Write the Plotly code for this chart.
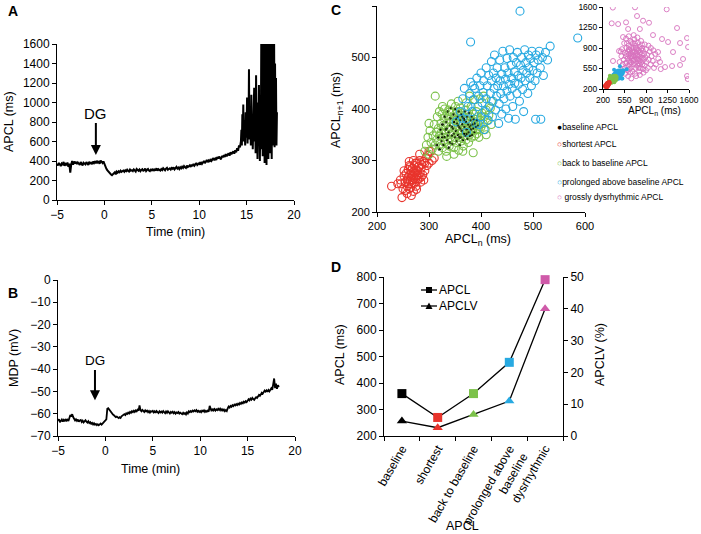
import plotly.graph_objects as go

W, H = 701, 534
FONT = "Liberation Sans, Arial, sans-serif"


def px(x):
    return x / W


def py(y):
    return 1 - y / H


# ---------------- Panel A: APCL (ms) vs time ----------------
# sampled every 0.1 min from -5.0 to 14.4 min
apcl_early = [
    372, 355, 380, 362, 348, 375, 366, 390, 352, 370,
    358, 384, 340, 372, 280, 365, 400, 362, 395, 375,
    392, 368, 385, 372, 360, 390, 378, 355, 382, 370,
    365, 388, 374, 360, 392, 376, 382, 368, 395, 380,
    398, 376, 402, 385, 392, 372, 405, 388, 380, 395,
    365, 340, 322, 305, 292, 285, 270, 262, 255, 268,
    275, 285, 262, 290, 280, 295, 285, 300, 288, 296,
    302, 290, 305, 296, 310, 298, 292, 312, 300, 306,
    296, 314, 302, 292, 318, 305, 300, 312, 296, 308,
    315, 300, 306, 322, 298, 310, 318, 302, 296, 312,
    305, 320, 298, 312, 308, 325, 300, 316, 310, 302,
    318, 308, 326, 312, 305, 322, 330, 310, 318, 325,
    312, 328, 320, 335, 315, 326, 340, 322, 332, 318,
    336, 325, 342, 330, 348, 335, 328, 352, 338, 345,
    355, 340, 362, 348, 370, 352, 365, 380, 358, 372,
    378, 362, 390, 372, 385, 400, 378, 395, 410, 388,
    405, 392, 420, 402, 415, 430, 408, 425, 412, 440,
    425, 445, 430, 418, 452, 438, 460, 442, 470, 448,
    465, 478, 455, 490, 470, 485, 500, 475, 510, 490,
    530, 505, 560, 540, 600,
]
# sampled every 0.05 min from 14.45 to 18.2 min (dysrhythmic phase)
apcl_late = [
    720, 560, 880, 650, 980, 600, 820, 700, 560, 900,
    640, 760, 1050, 580, 850, 690, 1340, 620, 900, 720,
    560, 1080, 650, 820, 520, 940, 700, 1150, 600, 880,
    480, 1280, 640, 760, 420, 1000, 560, 1180, 700, 400,
    860, 520, 1700, 600, 1100, 450, 1700, 520, 900, 380,
    1700, 640, 1250, 360, 1700, 560, 980, 420, 1700, 600,
    1500, 480, 1700, 700, 420, 1700, 560, 1200, 800, 1700,
    540, 1400, 700, 1250, 560, 900,
]
t_a = [round(-5.0 + 0.1 * i, 3) for i in range(len(apcl_early))] + \
      [round(14.45 + 0.05 * i, 3) for i in range(len(apcl_late))]
apcl_a = apcl_early + apcl_late

# ---------------- Panel B: MDP (mV) vs time ----------------
# sampled every 0.1 min from -5.0 to 18.3 min
mdp = [
    -63.2, -62.5, -63.8, -63.0, -62.6, -63.5, -62.8, -63.4, -62.4, -63.1,
    -62.7, -63.3, -61.8, -60.6, -61.2, -60.2, -61.5, -62.4, -63.0, -62.5,
    -63.2, -62.6, -63.6, -63.0, -62.8, -63.7, -63.1, -63.9, -63.3, -62.9,
    -63.6, -64.0, -63.4, -64.2, -63.8, -64.5, -64.1, -64.8, -64.3, -64.9,
    -64.6, -65.1, -64.7, -65.2, -64.8, -64.4, -64.9, -64.3, -63.9, -63.5,
    -63.0, -62.5, -57.8, -57.5, -58.2, -58.8, -59.4, -59.8, -60.4, -60.7,
    -61.0, -61.5, -61.3, -61.8, -62.0, -61.6, -61.9, -61.2, -60.9, -60.5,
    -60.2, -60.6, -59.8, -60.1, -59.5, -59.9, -59.2, -59.6, -58.9, -59.3,
    -58.7, -59.2, -58.5, -58.9, -58.2, -58.6, -56.3, -58.4, -58.9, -58.3,
    -58.8, -59.2, -58.5, -59.0, -58.6, -59.3, -58.8, -59.5, -58.9, -59.1,
    -58.7, -59.4, -58.9, -59.6, -58.8, -59.2, -59.7, -58.9, -59.4, -59.0,
    -59.5, -58.8, -59.3, -59.8, -59.0, -59.6, -58.9, -59.4, -59.9, -59.2,
    -59.6, -59.1, -59.8, -59.3, -60.0, -59.4, -59.7, -59.2, -59.9, -59.5,
    -59.8, -60.2, -59.6, -60.1, -59.7, -60.3, -59.4, -59.9, -58.9, -59.3,
    -58.8, -59.2, -58.6, -59.0, -58.5, -58.9, -58.4, -59.1, -58.7, -59.2,
    -58.8, -59.3, -58.6, -59.0, -58.5, -59.2, -58.7, -59.1, -58.6, -59.0,
    -56.5, -58.3, -58.9, -57.8, -58.5, -57.9, -58.6, -58.0, -58.4, -57.8,
    -58.3, -57.7, -58.5, -58.0, -58.6, -58.1, -58.9, -58.4, -58.8, -57.6,
    -56.8, -57.2, -56.5, -56.9, -56.2, -56.6, -55.9, -56.3, -55.7, -56.1,
    -55.5, -55.9, -55.2, -55.6, -54.9, -55.3, -54.6, -55.0, -54.4, -54.8,
    -54.2, -53.5, -54.0, -53.2, -53.7, -52.9, -53.4, -53.8, -53.1, -52.6,
    -52.9, -52.2, -51.6, -52.0, -51.3, -50.6, -51.0, -50.2, -49.6, -50.1,
    -49.5, -50.2, -49.4, -50.0, -49.0, -48.6, -49.3, -47.0, -44.2, -48.5,
    -46.5, -48.8, -47.2, -48.0,
]
t_b = [round(-5.0 + 0.1 * i, 3) for i in range(len(mdp))]

# ---------------- Panel C: Poincare plot (APCL_n, APCL_n+1) ----------------
red_x = [228, 240, 245, 248, 250, 252, 254, 255, 256, 258, 258, 260, 260, 261, 262, 262, 263, 264, 265, 265,
         266, 267, 268, 268, 269, 270, 270, 271, 272, 272, 273, 274, 275, 275, 276, 277, 278, 278, 279, 280,
         281, 282, 283, 284, 285, 286, 288, 290, 292, 294, 296, 298, 300, 303, 306, 310, 262, 270, 258, 276,
         282, 266, 290, 252, 274, 300, 285, 264, 292, 246]
red_y = [250, 255, 262, 228, 245, 270, 258, 242, 275, 262, 250, 282, 268, 255, 245, 290, 272, 260, 248, 280,
         268, 255, 285, 272, 262, 240, 278, 266, 290, 256, 275, 264, 282, 250, 270, 295, 262, 280, 272, 288,
         265, 300, 276, 258, 285, 292, 272, 298, 280, 305, 290, 310, 295, 318, 300, 305, 298, 300, 236, 244,
         312, 232, 262, 280, 295, 318, 268, 288, 295, 255]

black_x = [315, 318, 320, 322, 324, 325, 326, 328, 330, 330, 332, 333, 335, 336, 338, 338, 340, 341, 342, 344,
           345, 346, 347, 348, 350, 350, 352, 353, 354, 355, 356, 357, 358, 359, 360, 361, 362, 363, 364, 365,
           366, 367, 368, 369, 370, 371, 372, 373, 374, 375, 376, 377, 378, 379, 380, 381, 382, 383, 384, 385,
           386, 387, 388, 390, 392, 394, 336, 344, 352, 360, 368, 348, 356, 364, 372, 380, 340, 326, 334, 358]
black_y = [330, 345, 322, 360, 338, 352, 370, 330, 345, 385, 360, 375, 340, 395, 325, 355, 368, 382, 402, 348,
           332, 362, 390, 375, 345, 400, 358, 338, 372, 385, 350, 395, 365, 330, 378, 345, 390, 358, 370, 340,
           382, 352, 365, 395, 348, 375, 360, 385, 342, 370, 355, 392, 365, 348, 378, 360, 385, 350, 370, 362,
           380, 355, 372, 365, 378, 368, 348, 365, 380, 362, 378, 352, 368, 385, 352, 368, 335, 345, 362, 345]

green_x = [292, 295, 298, 300, 302, 304, 306, 308, 310, 312, 312, 314, 315, 316, 318, 318, 320, 320, 322, 323,
           324, 325, 326, 327, 328, 329, 330, 330, 332, 333, 334, 335, 336, 337, 338, 339, 340, 341, 342, 343,
           344, 345, 346, 347, 348, 349, 350, 350, 351, 352, 353, 354, 355, 356, 357, 358, 359, 360, 360, 361,
           362, 363, 364, 365, 366, 367, 368, 369, 370, 371, 372, 373, 374, 375, 376, 377, 378, 379, 380, 381,
           382, 383, 384, 385, 386, 387, 388, 389, 390, 391, 392, 393, 394, 395, 396, 398, 400, 402, 404, 406,
           408, 410, 412, 415, 418, 420, 398, 405, 388, 372, 356, 340, 326, 300, 334, 348, 365, 410, 420, 378]
green_y = [318, 330, 345, 312, 358, 335, 322, 348, 370, 425, 330, 355, 340, 385, 318, 362, 348, 395, 332, 372,
           355, 390, 325, 345, 368, 382, 335, 400, 352, 318, 372, 388, 340, 360, 398, 328, 380, 350, 365, 410,
           338, 392, 355, 372, 325, 385, 345, 362, 405, 378, 335, 395, 352, 368, 320, 385, 345, 360, 402, 375,
           338, 392, 355, 370, 328, 385, 348, 362, 398, 340, 378, 355, 390, 365, 335, 372, 350, 385, 360, 405,
           345, 375, 358, 315, 390, 368, 348, 380, 360, 395, 352, 372, 385, 362, 345, 378, 365, 392, 372, 385,
           360, 398, 378, 388, 402, 415, 420, 425, 418, 412, 415, 395, 405, 372, 308, 312, 318, 350, 370, 425]

blue_x = [360, 365, 368, 372, 375, 378, 380, 380, 383, 385, 388, 390, 392, 394, 395, 398, 400, 400, 402, 404,
          405, 406, 408, 410, 410, 412, 414, 415, 416, 418, 420, 420, 422, 423, 424, 425, 426, 428, 429, 430,
          431, 432, 434, 435, 436, 437, 438, 440, 440, 442, 443, 444, 446, 447, 448, 450, 450, 452, 453, 454,
          455, 456, 458, 459, 460, 461, 462, 464, 465, 466, 468, 469, 470, 471, 472, 474, 475, 476, 477, 478,
          480, 481, 482, 484, 485, 486, 488, 490, 491, 492, 494, 495, 497, 498, 500, 502, 504, 505, 506, 508,
          510, 512, 514, 515, 518, 520, 524, 528, 533, 586, 352, 364, 372, 385, 396]
blue_y = [395, 420, 440, 380, 405, 430, 452, 530, 395, 418, 440, 372, 460, 405, 425, 445, 385, 470, 412, 432,
          455, 360, 395, 480, 420, 445, 378, 465, 405, 430, 492, 455, 385, 415, 470, 440, 505, 398, 460, 425,
          480, 445, 372, 410, 495, 455, 430, 468, 390, 512, 445, 420, 480, 458, 400, 435, 498, 470, 382, 448,
          515, 425, 485, 460, 440, 405, 500, 472, 450, 380, 490, 430, 510, 465, 448, 415, 590, 485, 460, 500,
          438, 475, 395, 515, 455, 490, 470, 430, 505, 480, 460, 498, 445, 512, 475, 490, 455, 380, 505, 470,
          495, 512, 480, 380, 500, 465, 510, 495, 522, 538, 375, 382, 355, 445, 370]

pink_x = [360, 721, 1237, 342, 446, 575, 754, 852, 949, 609, 800, 1014, 1405, 1259, 1454, 1585, 1568, 1340,
          1503, 1454, 1324, 1568, 1580, 1210, 1128, 1096, 1161, 965, 363, 461, 526,
          520, 540, 555, 560, 570, 580, 585, 590, 600, 605, 610, 615, 620, 625, 630, 635, 640, 645, 650, 655,
          660, 665, 670, 675, 680, 685, 690, 695, 700, 700, 705, 710, 715, 720, 725, 730, 735, 740, 745, 750,
          755, 760, 765, 770, 775, 780, 785, 790, 795, 800, 805, 810, 815, 820, 825, 830, 835, 840, 845, 850,
          860, 870, 880, 890, 900, 910, 920, 930, 945, 960, 975, 990, 1010, 1030, 1050, 500, 510, 530, 545, 565,
          575, 595, 620, 640, 660, 680, 700, 720, 760, 790, 820, 850, 880, 470, 490, 560, 610, 660, 740, 800,
          860, 900, 940, 980, 1020, 1060, 1100, 1140, 620, 700, 760, 680, 740, 800, 640, 580, 720, 840, 780, 660]
pink_y = [1590, 1594, 1560, 1321, 1309, 1338, 1446, 1366, 1331, 1224, 1224, 1121, 1241, 1002, 985, 917, 1070, 831,
          712, 610, 592, 422, 370, 575, 661, 831, 1053, 354, 678, 848, 1087,
          620, 700, 820, 560, 760, 900, 650, 980, 720, 840, 600, 780, 940, 680, 860, 540, 740, 1020, 810, 650,
          900, 720, 580, 860, 760, 980, 680, 820, 620, 900, 760, 1050, 700, 840, 560, 780, 940, 660, 820, 720,
          880, 600, 780, 990, 700, 860, 640, 760, 920, 680, 820, 560, 740, 880, 660, 790, 960, 620, 730, 850,
          700, 800, 600, 740, 880, 660, 780, 560, 700, 840, 620, 760, 680, 560, 800, 760, 880, 540, 980, 640,
          1060, 520, 1100, 480, 1000, 500, 1120, 460, 1080, 500, 1020, 540, 960, 660, 840, 460, 420, 380, 420, 440,
          480, 520, 940, 900, 860, 620, 720, 540, 880, 700, 760, 840, 900, 620, 620, 800, 980, 900, 560, 760]

# ---------------- Panel D: summary ----------------
d_categories = ["baseline", "shortest", "back to baseline", "prolonged above<br>baseline", "dysrhythmic"]
d_apcl = [360, 270, 360, 478, 790]
d_apclv = [4.7, 2.6, 6.8, 11.0, 40.0]

RED = "#e8342c"
GREEN = "#7cc24a"
BLUE = "#27a9e1"
PINK = "#d772bd"
PINK_D = "#cf5aa9"
d_colors = ["#000000", RED, GREEN, BLUE, PINK_D]

fig = go.Figure()

# A
fig.add_trace(go.Scatter(x=t_a, y=apcl_a, mode="lines", line=dict(color="black", width=2),
                         xaxis="x", yaxis="y", showlegend=False))
# B
fig.add_trace(go.Scatter(x=t_b, y=mdp, mode="lines", line=dict(color="black", width=1.8),
                         xaxis="x2", yaxis="y2", showlegend=False))

# C main
fig.add_trace(go.Scatter(x=black_x, y=black_y, mode="markers", marker=dict(color="black", size=3),
                         xaxis="x3", yaxis="y3", showlegend=False))
for xs, ys, col in [(red_x, red_y, RED), (green_x, green_y, GREEN), (blue_x, blue_y, BLUE)]:
    fig.add_trace(go.Scatter(x=xs, y=ys, mode="markers",
                             marker=dict(symbol="circle-open", color=col, size=8, line=dict(width=1.1)),
                             xaxis="x3", yaxis="y3", showlegend=False))
# baseline dots also visible on top of the dense green cloud
fig.add_trace(go.Scatter(x=black_x, y=black_y, mode="markers", marker=dict(color="black", size=2),
                         opacity=0.7, xaxis="x3", yaxis="y3", showlegend=False))

# C inset
fig.add_trace(go.Scatter(x=pink_x, y=pink_y, mode="markers",
                         marker=dict(symbol="circle-open", color=PINK, size=5, line=dict(width=0.9)),
                         xaxis="x4", yaxis="y4", showlegend=False))
for xs, ys, col in [(blue_x, blue_y, BLUE), (green_x, green_y, GREEN), (red_x, red_y, RED)]:
    fig.add_trace(go.Scatter(x=xs, y=ys, mode="markers",
                             marker=dict(symbol="circle", color=col, size=4),
                             xaxis="x4", yaxis="y4", showlegend=False))

# D
fig.add_trace(go.Scatter(x=d_categories, y=d_apcl, mode="lines+markers",
                         line=dict(color="black", width=1.3),
                         marker=dict(symbol="square", size=9, color=d_colors),
                         xaxis="x5", yaxis="y5", showlegend=False, cliponaxis=False))
fig.add_trace(go.Scatter(x=d_categories, y=d_apclv, mode="lines+markers",
                         line=dict(color="black", width=1.3),
                         marker=dict(symbol="triangle-up", size=9, color=d_colors),
                         xaxis="x5", yaxis="y6", showlegend=False, cliponaxis=False))

axis_base = dict(showline=True, linecolor="black", linewidth=1, ticks="outside", ticklen=4,
                 tickcolor="black", tickwidth=1, showgrid=False, zeroline=False, automargin=False,
                 tickfont=dict(family=FONT, size=12, color="black"))


def ax(**kw):
    d = dict(axis_base)
    d.update(kw)
    return d


layout = dict(
    width=W, height=H,
    margin=dict(l=0, r=0, t=0, b=0, pad=0),
    paper_bgcolor="white", plot_bgcolor="white",
    font=dict(family=FONT, color="black"),
    showlegend=False,
    xaxis=ax(domain=[px(57), px(294)], anchor="y", range=[-5, 20], dtick=5),
    yaxis=ax(domain=[py(200), py(44)], anchor="x", range=[0, 1600], dtick=200),
    xaxis2=ax(domain=[px(58), px(295)], anchor="y2", range=[-5, 20], dtick=5),
    yaxis2=ax(domain=[py(436), py(280)], anchor="x2", range=[-70, 0], dtick=10),
    xaxis3=ax(domain=[px(377), px(585)], anchor="y3", range=[200, 600], dtick=100,
              tickfont=dict(family=FONT, size=11, color="black")),
    yaxis3=ax(domain=[py(212), py(6)], anchor="x3", range=[200, 600], dtick=100,
              tickfont=dict(family=FONT, size=11, color="black")),
    xaxis4=ax(domain=[px(603), px(689)], anchor="y4", range=[200, 1600],
              tickvals=[200, 550, 900, 1250, 1600], ticklen=3,
              tickfont=dict(family=FONT, size=8.5, color="black")),
    yaxis4=ax(domain=[py(89), py(7)], anchor="x4", range=[200, 1600],
              tickvals=[200, 550, 900, 1250, 1600], ticklen=3,
              tickfont=dict(family=FONT, size=8.5, color="black")),
    xaxis5=ax(domain=[px(384), px(563)], anchor="y5", type="category", range=[-0.5, 4.5],
              tickson="boundaries", tickangle=-60),
    yaxis5=ax(domain=[py(436), py(277)], anchor="x5", range=[200, 800], dtick=100),
    yaxis6=ax(overlaying="y5", anchor="x5", side="right", range=[0, 50], dtick=10),
)

ann = []


def text(x, y, s, size=12, angle=0, bold=False, xanchor="center", color="black"):
    if bold:
        s = "<b>" + s + "</b>"
    ann.append(dict(xref="paper", yref="paper", x=px(x), y=py(y), text=s, showarrow=False,
                    textangle=angle, xanchor=xanchor, yanchor="middle",
                    font=dict(family=FONT, size=size, color=color)))


# panel letters
text(13, 11, "A", 14, bold=True)
text(13, 293, "B", 14, bold=True)
text(336, 10, "C", 14, bold=True)
text(336, 267, "D", 14, bold=True)

# axis titles
text(9, 122, "APCL (ms)", 12.5, angle=-90)
text(175, 232, "Time (min)", 12.5)
text(14, 358, "MDP (mV)", 12.5, angle=-90)
text(150, 469, "Time (min)", 12.5)
text(337, 110, "APCL<sub>n+1</sub> (ms)", 12.5, angle=-90)
text(478, 240, "APCL<sub>n</sub> (ms)", 12.5)
text(654, 111, "APCL<sub>n</sub> (ms)", 10)
text(340, 355, "APCL (ms)", 12.5, angle=-90)
text(600, 355, "APCLV (%)", 12.5, angle=-90)
text(462, 526, "APCL", 12.5)

# C legend
leg = [("●", "black", "baseline APCL", 127), ("○", RED, "shortest APCL", 144),
       ("○", GREEN, "back to baseline APCL", 163), ("○", BLUE, "prolonged above baseline APCL", 182),
       ("○", PINK, " grossly dysrhythmic APCL", 197)]
for sym, col, lab, yy in leg:
    text(555, yy, '<span style="color:%s">%s</span>%s' % (col, sym, lab), 8.5, xanchor="left")

# D legend
text(437, 290, "APCL", 12, xanchor="left")
text(437, 306, "APCLV", 12, xanchor="left")
shapes = [
    dict(type="line", xref="paper", yref="paper", x0=px(421), x1=px(437), y0=py(290), y1=py(290),
         line=dict(color="black", width=1.3)),
    dict(type="line", xref="paper", yref="paper", x0=px(421), x1=px(437), y0=py(306), y1=py(306),
         line=dict(color="black", width=1.3)),
    dict(type="rect", xref="paper", yref="paper", x0=px(426), x1=px(432), y0=py(293), y1=py(287),
         fillcolor="black", line=dict(width=0)),
    dict(type="path", xref="paper", yref="paper",
         path="M %f %f L %f %f L %f %f Z" % (px(425.5), py(309), px(432.5), py(309), px(429), py(302.5)),
         fillcolor="black", line=dict(width=0)),
]

# DG arrows
ann.append(dict(xref="x", yref="y", axref="x", ayref="y", x=-0.9, y=462, ax=-0.9, ay=892,
                text="DG", showarrow=True, arrowhead=2, arrowsize=1, arrowwidth=2, arrowcolor="black",
                standoff=0, font=dict(family=FONT, size=15, color="black")))
ann.append(dict(xref="x2", yref="y2", axref="x2", ayref="y2", x=-1.1, y=-54.0, ax=-1.1, ay=-36.3,
                text="DG", showarrow=True, arrowhead=2, arrowsize=1, arrowwidth=2, arrowcolor="black",
                standoff=0, font=dict(family=FONT, size=13.5, color="black")))

layout["annotations"] = ann
layout["shapes"] = shapes
fig.update_layout(**layout)

fig.write_html("out.html", config={"displayModeBar": False, "staticPlot": True},
               post_script="document.body.style.margin='0';document.body.style.overflow='hidden';")
